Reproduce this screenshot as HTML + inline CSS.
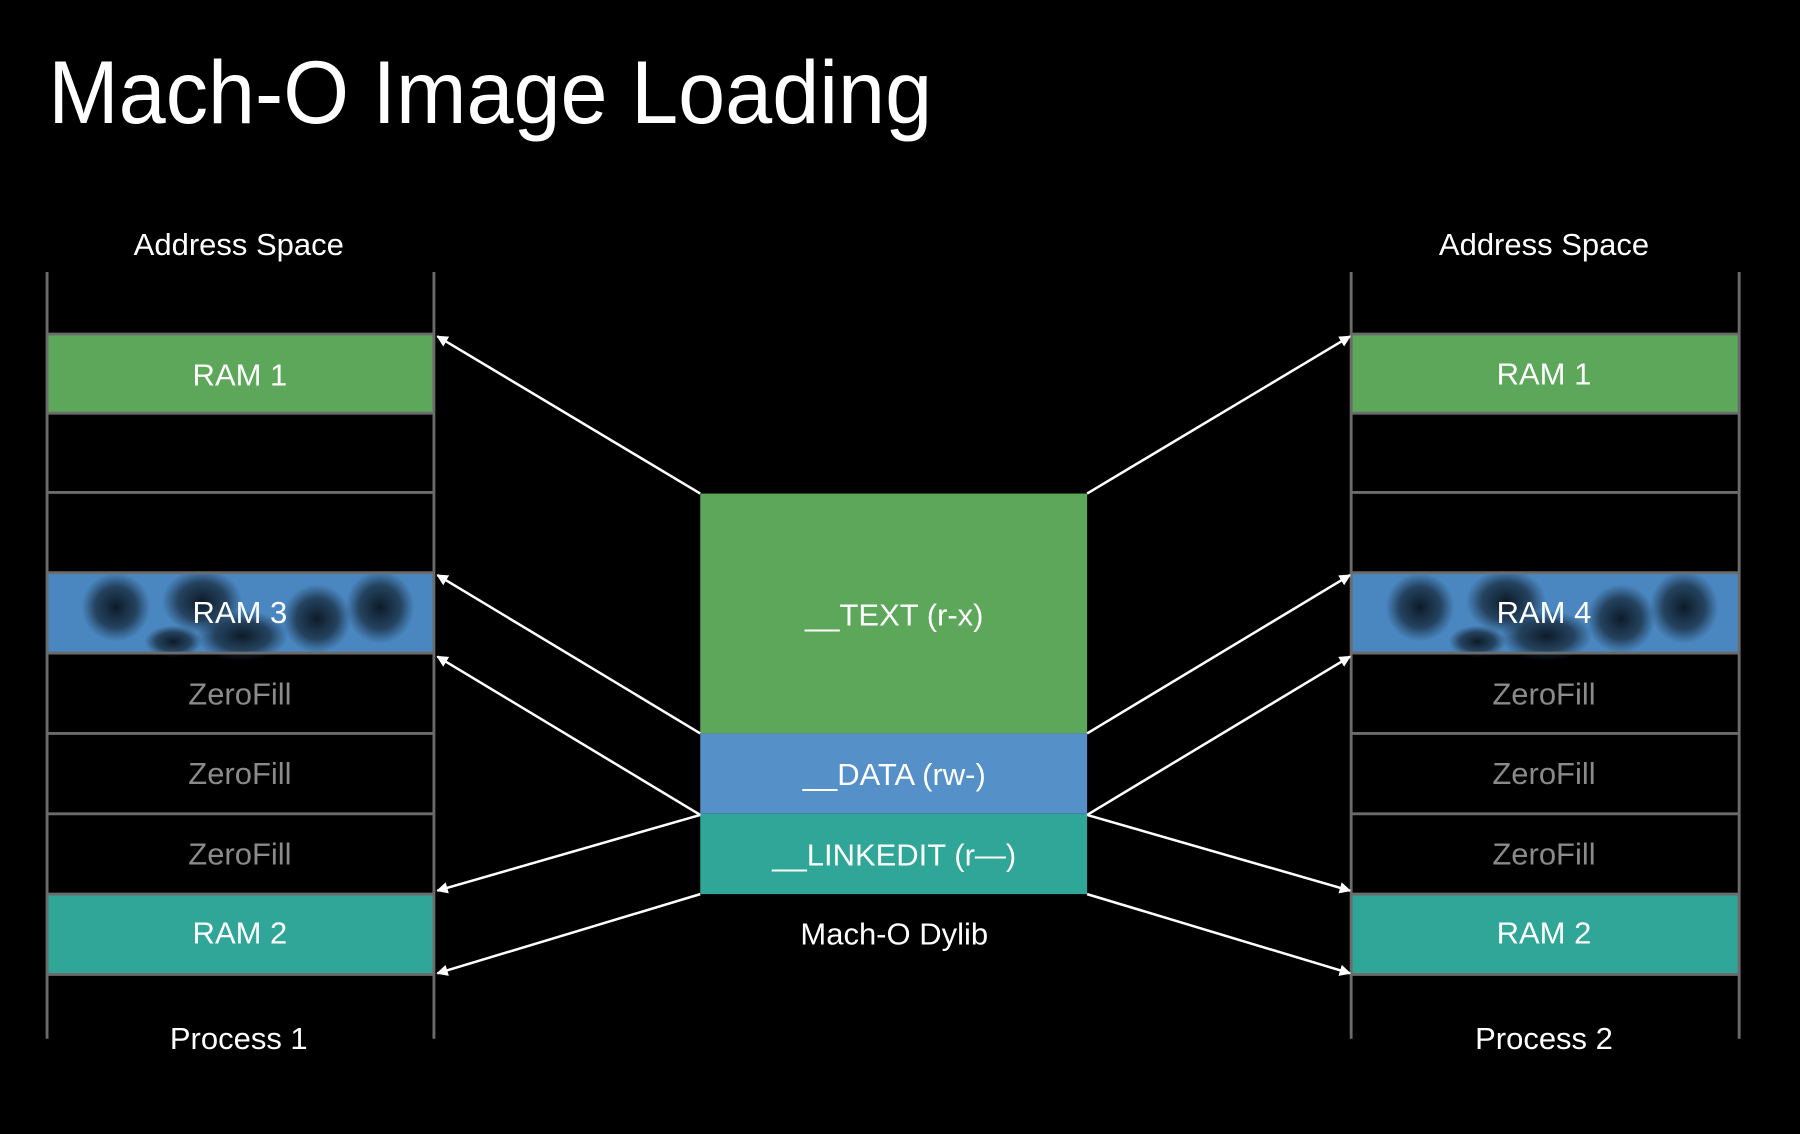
<!DOCTYPE html>
<html><head><meta charset="utf-8"><style>
html,body{margin:0;padding:0;background:#000;width:1800px;height:1134px;overflow:hidden}
svg{display:block}
text{font-family:"Liberation Sans",sans-serif;}
</style></head><body>
<svg width="1800" height="1134" viewBox="0 0 1568 988" preserveAspectRatio="none" xmlns="http://www.w3.org/2000/svg">
<defs>
<marker id="ah" markerWidth="10" markerHeight="10" refX="9" refY="5" orient="auto" markerUnits="userSpaceOnUse">
<path d="M0,0 L10,5 L0,10 z" fill="#fff"/>
</marker>
<radialGradient id="blob"><stop offset="0" stop-color="#0a1520" stop-opacity="0.95"/><stop offset="0.6" stop-color="#142535" stop-opacity="0.7"/><stop offset="1" stop-color="#1a3048" stop-opacity="0"/></radialGradient>
<g id="tex">
<rect x="0" y="0" width="337" height="70" fill="#4a87c0"/>
<ellipse cx="60" cy="30" rx="30" ry="30" fill="url(#blob)"/>
<ellipse cx="135" cy="25" rx="35" ry="28" fill="url(#blob)"/>
<ellipse cx="170" cy="55" rx="40" ry="22" fill="url(#blob)"/>
<ellipse cx="235" cy="40" rx="30" ry="30" fill="url(#blob)"/>
<ellipse cx="290" cy="30" rx="30" ry="32" fill="url(#blob)"/>
<ellipse cx="110" cy="60" rx="25" ry="14" fill="url(#blob)"/>
</g>
</defs>
<rect width="1568" height="988" fill="#000"/>
<text x="42" y="107" font-size="78" fill="#fff" textLength="770" lengthAdjust="spacingAndGlyphs">Mach-O Image Loading</text>

<!-- left column -->
<g>
<rect x="41" y="291" width="337" height="69" fill="#5ca75a"/>
<use href="#tex" x="41" y="499"/>
<rect x="41" y="779" width="337" height="70" fill="#2fa698"/>
<g stroke="#6b6b6b" stroke-width="2.5">
<line x1="41" y1="237" x2="41" y2="905"/><line x1="378" y1="237" x2="378" y2="905"/>
<line x1="41" y1="291" x2="378" y2="291"/><line x1="41" y1="360" x2="378" y2="360"/>
<line x1="41" y1="429" x2="378" y2="429"/><line x1="41" y1="499" x2="378" y2="499"/>
<line x1="41" y1="569" x2="378" y2="569"/><line x1="41" y1="639" x2="378" y2="639"/>
<line x1="41" y1="709" x2="378" y2="709"/><line x1="41" y1="779" x2="378" y2="779"/>
<line x1="41" y1="849" x2="378" y2="849"/>
</g>
</g>
<!-- right column -->
<g>
<rect x="1177" y="291" width="338" height="69" fill="#5ca75a"/>
<use href="#tex" x="1177" y="499"/>
<rect x="1177" y="779" width="338" height="70" fill="#2fa698"/>
<g stroke="#6b6b6b" stroke-width="2.5">
<line x1="1177" y1="237" x2="1177" y2="905"/><line x1="1515" y1="237" x2="1515" y2="905"/>
<line x1="1177" y1="291" x2="1515" y2="291"/><line x1="1177" y1="360" x2="1515" y2="360"/>
<line x1="1177" y1="429" x2="1515" y2="429"/><line x1="1177" y1="499" x2="1515" y2="499"/>
<line x1="1177" y1="569" x2="1515" y2="569"/><line x1="1177" y1="639" x2="1515" y2="639"/>
<line x1="1177" y1="709" x2="1515" y2="709"/><line x1="1177" y1="779" x2="1515" y2="779"/>
<line x1="1177" y1="849" x2="1515" y2="849"/>
</g>
</g>
<!-- center -->
<rect x="610" y="430" width="337" height="209" fill="#5ca75a"/>
<rect x="610" y="639" width="337" height="70" fill="#5590c8"/>
<rect x="610" y="709" width="337" height="70" fill="#2fa698"/>

<!-- arrows -->
<g stroke="#fff" stroke-width="2.2" marker-end="url(#ah)">
<line x1="610" y1="430" x2="381" y2="293"/>
<line x1="610" y1="639" x2="381" y2="501"/>
<line x1="610" y1="710" x2="381" y2="572"/>
<line x1="610" y1="710" x2="381" y2="776"/>
<line x1="610" y1="779" x2="381" y2="848"/>
<line x1="947" y1="430" x2="1176" y2="293"/>
<line x1="947" y1="639" x2="1176" y2="501"/>
<line x1="947" y1="710" x2="1176" y2="572"/>
<line x1="947" y1="710" x2="1176" y2="776"/>
<line x1="947" y1="779" x2="1176" y2="848"/>
</g>

<g font-size="27" fill="#fff" text-anchor="middle">
<text x="208" y="222">Address Space</text>
<text x="1345" y="222">Address Space</text>
<text x="209" y="336">RAM 1</text>
<text x="209" y="543">RAM 3</text>
<text x="209" y="822">RAM 2</text>
<text x="1345" y="335">RAM 1</text>
<text x="1345" y="543">RAM 4</text>
<text x="1345" y="822">RAM 2</text>
<text x="208" y="914">Process 1</text>
<text x="1345" y="914">Process 2</text>
<text x="779" y="545">__TEXT (r-x)</text>
<text x="779" y="684">__DATA (rw-)</text>
<text x="779" y="754">__LINKEDIT (r—)</text>
<text x="779" y="823">Mach-O Dylib</text>
</g>
<g font-size="27" fill="#8a8a8a" text-anchor="middle">
<text x="209" y="614">ZeroFill</text>
<text x="209" y="683">ZeroFill</text>
<text x="209" y="753">ZeroFill</text>
<text x="1345" y="614">ZeroFill</text>
<text x="1345" y="683">ZeroFill</text>
<text x="1345" y="753">ZeroFill</text>
</g>
</svg>
</body></html>
